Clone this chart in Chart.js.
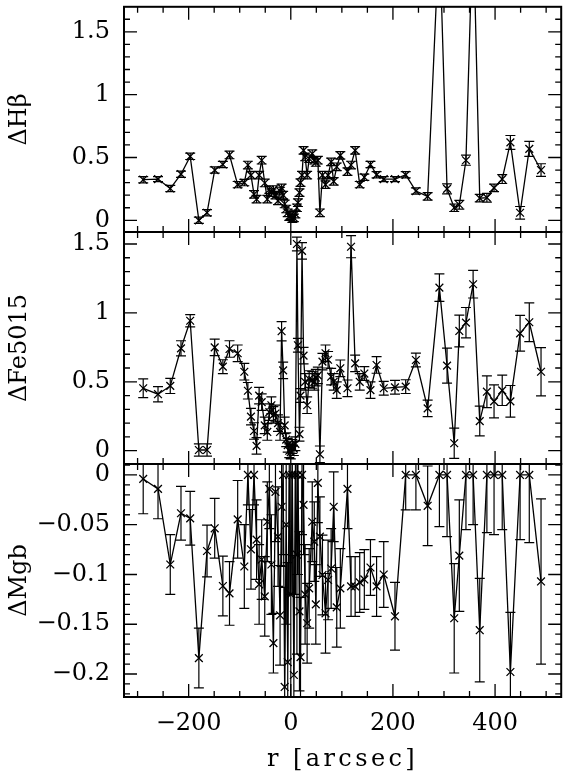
<!DOCTYPE html>
<html>
<head>
<meta charset="utf-8">
<script src="https://cdn.jsdelivr.net/npm/chart.js@4.4.1/dist/chart.umd.min.js"></script>
<style>
  body { margin: 0; background: #fff; }
  #wrap { position: relative; width: 568px; height: 773px; }
  #wrap canvas { position: absolute; left: 0; top: 0; }
</style>
</head>
<body>
<div id="wrap">
  <canvas id="hb" width="568" height="773"></canvas>
  <canvas id="fe" width="568" height="773"></canvas>
  <canvas id="mgb" width="568" height="773"></canvas>
</div>
<script>
// radius along the slit [arcsec], shared by the three panels
const r = [-289, -260, -236, -215, -197, -180, -164, -149, -133, -120,
  -104, -91, -84, -78, -72, -67, -62, -57, -51, -46,
  -42, -38, -34, -30, -25, -21, -18, -15, -12, -9,
  -6, -3, 0, 3, 6, 9, 12, 14, 17, 19,
  22, 25, 28, 32, 36, 42, 46, 49, 53, 57,
  62, 68, 73, 79, 84, 90, 97, 111, 118, 126,
  135, 144, 156, 168, 182, 204, 225, 245, 268, 291,
  306, 320, 330, 343, 357, 370, 384, 398, 414, 430,
  449, 467, 490];

const dHb = [0.323, 0.328, 0.253, 0.367, 0.509, 0.0, 0.06, 0.40, 0.444, 0.52,
  0.284, 0.30, 0.44, 0.36, 0.207, 0.168, 0.36, 0.478, 0.297, 0.168,
  0.245, 0.22, 0.245, 0.20, 0.155, 0.233, 0.258, 0.20, 0.13, 0.09,
  0.06, 0.03, 0.04, 0.013, 0.02, 0.05, 0.10, 0.14, 0.22, 0.30,
  0.36, 0.556, 0.504, 0.36, 0.49, 0.53, 0.478, 0.46, 0.478, 0.06,
  0.36, 0.284, 0.36, 0.465, 0.31, 0.426, 0.517, 0.388, 0.44, 0.556,
  0.284, 0.343, 0.444, 0.362, 0.328, 0.328, 0.362, 0.233, 0.19, 2.3,
  0.25, 0.10, 0.124, 0.478, 2.4, 0.176, 0.18, 0.258, 0.328, 0.62,
  0.06, 0.568, 0.40];
const dHbErr = [0.025, 0.02, 0.025, 0.025, 0.025, 0.025, 0.025, 0.025, 0.025, 0.03,
  0.025, 0.025, 0.03, 0.03, 0.03, 0.03, 0.03, 0.03, 0.03, 0.03,
  0.03, 0.03, 0.03, 0.03, 0.03, 0.03, 0.03, 0.03, 0.03, 0.03,
  0.03, 0.03, 0.03, 0.03, 0.03, 0.03, 0.03, 0.03, 0.03, 0.03,
  0.03, 0.03, 0.03, 0.03, 0.03, 0.03, 0.03, 0.03, 0.03, 0.03,
  0.03, 0.03, 0.03, 0.03, 0.03, 0.03, 0.03, 0.03, 0.03, 0.03,
  0.025, 0.025, 0.025, 0.025, 0.02, 0.02, 0.025, 0.025, 0.03, 0.05,
  0.04, 0.03, 0.035, 0.04, 0.05, 0.03, 0.035, 0.03, 0.035, 0.055,
  0.05, 0.06, 0.05];

const dFe = [0.453, 0.41, 0.47, 0.743, 0.943, 0.005, 0.005, 0.75, 0.61, 0.738,
  0.707, 0.573, 0.435, 0.247, 0.143, 0.035, 0.40, 0.353, 0.184, 0.136,
  0.28, 0.33, 0.26, 0.27, 0.20, 0.136, 0.867, 0.583, 0.184, 0.08,
  0.04, 0.0, -0.01, 0.03, 0.015, 0.05, 1.50, 0.765, 0.12, 0.40,
  1.45, 0.69, 0.50, 0.33, 0.52, 0.513, 0.50, 0.53, 0.547, -0.026,
  0.646, 0.707, 0.66, 0.537, 0.50, 0.44, 0.598, 0.453, 1.48, 0.634,
  0.50, 0.56, 0.44, 0.622, 0.453, 0.46, 0.465, 0.658, 0.307, 1.183,
  0.617, 0.054, 0.869, 0.929, 1.208, 0.215, 0.428, 0.358, 0.438, 0.358,
  0.852, 0.932, 0.573];
const dFeErr = [0.068, 0.055, 0.055, 0.055, 0.045, 0.045, 0.045, 0.06, 0.05, 0.06,
  0.06, 0.06, 0.06, 0.06, 0.06, 0.06, 0.06, 0.06, 0.06, 0.06,
  0.06, 0.06, 0.06, 0.06, 0.06, 0.06, 0.07, 0.06, 0.06, 0.05,
  0.05, 0.05, 0.05, 0.05, 0.05, 0.05, 0.05, 0.05, 0.05, 0.05,
  0.06, 0.06, 0.06, 0.06, 0.06, 0.06, 0.06, 0.06, 0.06, 0.06,
  0.06, 0.06, 0.06, 0.06, 0.06, 0.06, 0.06, 0.06, 0.08, 0.06,
  0.06, 0.05, 0.06, 0.06, 0.05, 0.05, 0.05, 0.05, 0.06, 0.10,
  0.127, 0.11, 0.115, 0.11, 0.10, 0.108, 0.115, 0.12, 0.11, 0.115,
  0.13, 0.14, 0.175];

const dMgb = [-0.004, -0.014, -0.09, -0.0385, -0.0436, -0.184, -0.0764, -0.0536, -0.1116, -0.119,
  -0.0446, -0.092, 0.0, -0.0747, 0.0, -0.065, -0.11, -0.085, -0.122, -0.047,
  -0.014, -0.09, -0.169, -0.017, -0.062, -0.141, -0.032, 0.0, -0.213, -0.05,
  -0.188, 0.0, -0.12, 0.0, -0.201, 0.0, -0.08, 0.0, -0.137, -0.183,
  0.0, -0.03, -0.12, -0.149, -0.114, -0.047, -0.067, -0.130, -0.008, -0.062,
  -0.1005, -0.139, -0.1055, -0.094, -0.032, -0.133, -0.114, -0.014, -0.112, -0.112,
  -0.108, -0.105, -0.093, -0.112, -0.10, -0.142, 0.0, 0.0, -0.031, 0.0,
  0.0, -0.144, -0.081, 0.0, 0.0, -0.156, 0.0, 0.0, 0.0, -0.198,
  0.0, 0.0, -0.107];
const dMgbErr = [0.035, 0.03, 0.03, 0.027, 0.027, 0.03, 0.026, 0.03, 0.03, 0.032,
  0.039, 0.042, 0.03, 0.04, 0.03, 0.04, 0.04, 0.04, 0.04, 0.04,
  0.04, 0.05, 0.03, 0.05, 0.05, 0.05, 0.06, 0.08, 0.10, 0.10,
  0.10, 0.12, 0.12, 0.12, 0.12, 0.12, 0.10, 0.10, 0.08, 0.06,
  0.06, 0.05, 0.05, 0.04, 0.04, 0.04, 0.04, 0.04, 0.04, 0.04,
  0.04, 0.04, 0.04, 0.04, 0.035, 0.04, 0.04, 0.04, 0.03, 0.03,
  0.03, 0.03, 0.028, 0.03, 0.033, 0.034, 0.035, 0.035, 0.04, 0.052,
  0.062, 0.055, 0.056, 0.055, 0.05, 0.052, 0.058, 0.06, 0.055, 0.06,
  0.065, 0.068, 0.083];

// labelled ticks
const rTicks = [-200, 0, 200, 400];
const hbTicks = [0, 0.5, 1, 1.5];
const feTicks = [0, 0.5, 1, 1.5];
const mgbTicks = [0, -0.05, -0.1, -0.15, -0.2];

Chart.defaults.font.family = 'DejaVu Serif';
Chart.defaults.font.size = 24;
Chart.defaults.color = '#000';

const minus = v => String(Math.round(v * 1000) / 1000).replace('-', '\u2212');

// vertical error bars with caps, clipped to the panel
const errorBars = {
  id: 'errorBars',
  afterDatasetsDraw(chart) {
    const {ctx, chartArea: a, scales: {x, y}} = chart;
    const ds = chart.data.datasets[0];
    ctx.save();
    ctx.beginPath();
    ctx.rect(a.left, a.top, a.right - a.left, a.bottom - a.top);
    ctx.clip();
    ctx.strokeStyle = '#000';
    ctx.lineWidth = 1.2;
    ctx.beginPath();
    ds.data.forEach((p, i) => {
      const e = ds.err[i];
      const px = x.getPixelForValue(p.x);
      const lo = y.getPixelForValue(p.y - e), hi = y.getPixelForValue(p.y + e);
      ctx.moveTo(px, lo); ctx.lineTo(px, hi);
      ctx.moveTo(px - 5, lo); ctx.lineTo(px + 5, lo);
      ctx.moveTo(px - 5, hi); ctx.lineTo(px + 5, hi);
    });
    ctx.stroke();
    ctx.restore();
  }
};

// box round the panel with inward ticks on all four sides
const frame = {
  id: 'frame',
  afterDraw(chart, args, opts) {
    const {ctx, chartArea: a, scales: {x, y}} = chart;
    ctx.save();
    ctx.strokeStyle = '#000';
    ctx.lineWidth = 1.3;
    ctx.beginPath();
    const marks = (scale, step, len, horiz) => {
      for (let k = Math.ceil(scale.min / step - 1e-6); k * step <= scale.max + 1e-9; k++) {
        const p = scale.getPixelForValue(k * step);
        if (horiz) {
          ctx.moveTo(p, a.bottom); ctx.lineTo(p, a.bottom - len);
          ctx.moveTo(p, a.top); ctx.lineTo(p, a.top + len);
        } else {
          ctx.moveTo(a.left, p); ctx.lineTo(a.left + len, p);
          ctx.moveTo(a.right, p); ctx.lineTo(a.right - len, p);
        }
      }
    };
    marks(x, 50, 6, true);
    marks(x, 200, 13, true);
    marks(y, opts.yMinor, 6, false);
    marks(y, opts.yMajor, 13, false);
    ctx.stroke();
    ctx.lineWidth = 2;
    ctx.strokeRect(a.left, a.top, a.right - a.left, a.bottom - a.top);
    ctx.restore();
  }
};

// the r axis title is set wider, as in the original plot
function spaceTitle(s) {
  if (s._spaced) return;
  const base = s.drawTitle;
  s.drawTitle = function () {
    this.ctx.save();
    this.ctx.letterSpacing = '3.4px';
    base.call(this);
    this.ctx.restore();
  };
  s._spaced = true;
}

function panel(id, vals, errs, yMin, yMax, yTicks, yMajor, yMinor, title, padTop, padBottom, showX) {
  new Chart(document.getElementById(id), {
    type: 'line',
    data: {
      datasets: [{
        data: r.map((v, i) => ({x: v, y: vals[i]})),
        err: errs,
        borderColor: '#000',
        borderWidth: 1.3,
        pointStyle: 'crossRot',
        pointRadius: 5.5,
        pointBorderWidth: 1.3,
        pointBorderColor: '#000',
        pointBackgroundColor: '#000',
        tension: 0
      }]
    },
    options: {
      responsive: false,
      animation: false,
      events: [],
      layout: {padding: {top: padTop, bottom: padBottom, left: 0, right: 1}},
      plugins: {
        legend: {display: false},
        tooltip: {enabled: false},
        frame: {yMajor: yMajor, yMinor: yMinor}
      },
      scales: {
        x: {
          type: 'linear',
          min: -326.6,
          max: 529.5,
          display: showX,
          grid: {display: false, drawTicks: false},
          border: {display: false},
          afterBuildTicks: s => { s.ticks = rTicks.map(v => ({value: v})); },
          afterFit: s => {
            s.height = showX ? 76 : 0; s.paddingLeft = 0; s.paddingRight = 0;
            spaceTitle(s);
          },
          ticks: {padding: 12, callback: minus},
          title: {display: true, text: 'r [arcsec]', padding: {top: 0, bottom: -1}}
        },
        y: {
          type: 'linear',
          min: yMin,
          max: yMax,
          grid: {display: false, drawTicks: false},
          border: {display: false},
          afterBuildTicks: s => { s.ticks = yTicks.map(v => ({value: v})); },
          afterFit: s => { s.width = 124; s.paddingTop = 0; s.paddingBottom = 0; },
          ticks: {padding: 14, callback: minus},
          title: {display: true, text: title, padding: {top: 5, bottom: 4}}
        }
      }
    },
    plugins: [errorBars, frame]
  });
}

panel('hb', dHb, dHbErr, -0.093, 1.699, hbTicks, 0.5, 0.1, '\u0394H\u03b2', 1, 541, false);
panel('fe', dFe, dFeErr, -0.0965, 1.587, feTicks, 0.5, 0.1, '\u0394Fe5015', 232, 309, false);
panel('mgb', dMgb, dMgbErr, -0.2231, 0.011, mgbTicks, 0.05, 0.01, '\u0394Mgb', 464, 0, true);
</script>
</body>
</html>
